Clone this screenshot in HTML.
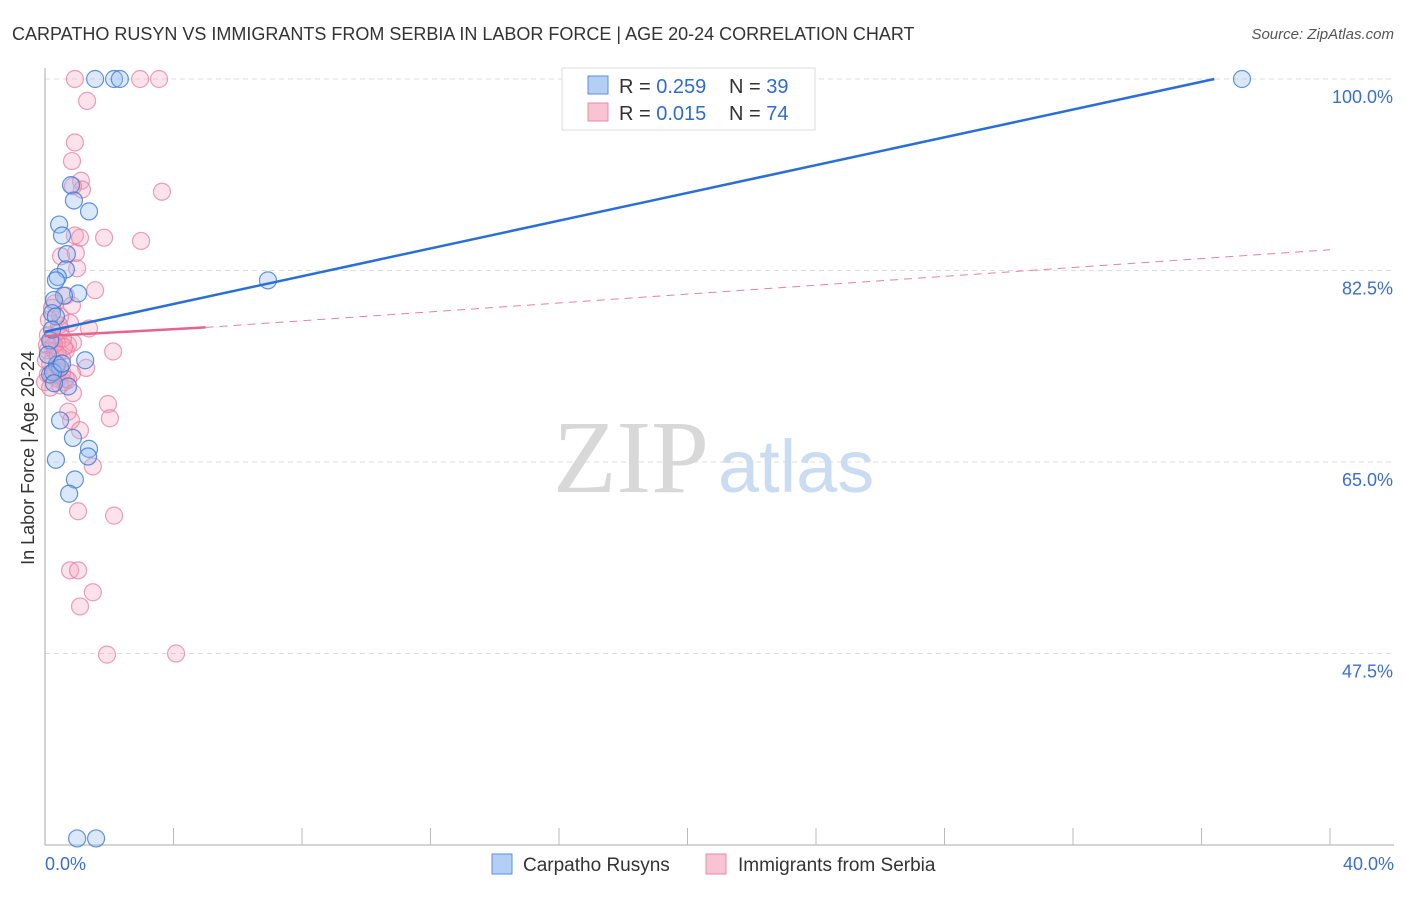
<!DOCTYPE html>
<html><head><meta charset="utf-8"><style>
body{margin:0;background:#fff;font-family:"Liberation Sans",sans-serif}
svg text{font-family:"Liberation Sans",sans-serif}
svg text.serif{font-family:"Liberation Serif",serif}
</style></head><body>
<svg width="1406" height="892" viewBox="0 0 1406 892">
<text x="12" y="40" font-size="18" fill="#333">CARPATHO RUSYN VS IMMIGRANTS FROM SERBIA IN LABOR FORCE | AGE 20-24 CORRELATION CHART</text>
<text x="1394" y="39" font-size="15" fill="#555" font-style="italic" text-anchor="end">Source: ZipAtlas.com</text>
<text x="34" y="458" font-size="18" fill="#333" text-anchor="middle" transform="rotate(-90 34 458)">In Labor Force | Age 20-24</text>
<g id="grid"></g>
<g id="axes"></g>
<text x="553" y="492" font-size="104" fill="#d8d8d8" class="serif">ZIP</text>
<text x="718" y="492" font-size="74" fill="#c9dcf2">atlas</text>
<g id="pts"></g>
<g id="lines"></g>
<g>
<rect x="562" y="68" width="253" height="62" fill="#fff" stroke="#ddd"/>
<rect x="588" y="76" width="20" height="18" fill="#b3cff5" stroke="#5b8fdc"/>
<text x="619" y="93" font-size="20" fill="#333">R = <tspan fill="#2f6bd1">0.259</tspan></text>
<text x="729" y="93" font-size="20" fill="#333">N = <tspan fill="#2f6bd1">39</tspan></text>
<rect x="588" y="103" width="20" height="18" fill="#f8c4d3" stroke="#e88aa6"/>
<text x="619" y="120" font-size="20" fill="#333">R = <tspan fill="#2f6bd1">0.015</tspan></text>
<text x="729" y="120" font-size="20" fill="#333">N = <tspan fill="#2f6bd1">74</tspan></text>
</g>
<g>
<rect x="492" y="854" width="20" height="20" fill="#b3cff5" stroke="#5b8fdc"/>
<text x="523" y="871" font-size="19" fill="#333">Carpatho Rusyns</text>
<rect x="706" y="854" width="20" height="20" fill="#f8c4d3" stroke="#e88aa6"/>
<text x="738" y="871" font-size="19" fill="#333">Immigrants from Serbia</text>
</g>
</svg>
<script>
const yTicks=[100,82.5,65,47.5];
const yTickLabels=["100.0%","82.5%","65.0%","47.5%"];
const xTickLabels=["0.0%","40.0%"];
const blueX=[1.56,2.15,2.33,37.26,0.81,0.9,1.37,0.44,0.53,0.68,0.65,0.4,0.34,1.03,0.59,0.28,0.22,0.34,0.16,0.37,0.47,1.25,0.72,0.47,0.87,1.37,1.34,0.34,0.93,0.75,1.0,1.59,6.94,0.22,0.09,0.16,0.25,0.28,0.53];
const blueY=[100,100,100,100,90.3,88.9,87.9,86.7,85.7,84.0,82.6,81.9,81.6,80.4,80.2,79.8,78.6,78.3,76.1,73.9,73.6,74.3,71.9,68.8,67.2,66.2,65.5,65.2,63.4,62.1,30.6,30.6,81.6,77.1,74.8,73.0,73.2,72.2,74.0];
const pinkX=[0.93,2.96,3.55,1.31,0.93,0.84,1.12,1.15,3.64,0.87,1.84,2.99,0.93,1.09,0.5,0.96,1.0,1.56,0.65,0.84,0.31,0.47,0.78,1.37,0.47,0.09,0.19,0.37,0.72,0.87,0.09,0.31,0.65,2.12,0.53,0.16,0.37,0.09,0.22,0.4,0.59,0.65,0.47,0.87,1.28,0,1.96,2.02,0.72,0.81,1.09,1.49,1.03,2.15,0.78,1.03,1.49,1.09,1.93,4.08,0.06,0.12,0.22,0.44,0.56,0.59,0.31,0.16,0.84,0.03,0.28,0.4,0.53,0.72];
const pinkY=[100,100,100,98.0,94.2,92.5,90.7,89.9,89.7,90.2,85.5,85.2,85.7,85.5,83.8,84.1,82.7,80.7,80.2,79.3,79.5,78.3,77.7,77.2,77.1,76.6,76.1,75.9,75.7,75.9,75.2,75.1,75.2,75.1,74.5,74.0,73.8,73.0,72.9,72.6,72.3,72.6,72.0,71.3,73.6,72.3,70.3,69.0,69.6,68.8,67.9,64.6,60.5,60.1,55.1,55.1,53.1,51.8,47.4,47.5,75.7,78.0,79.1,77.5,76.3,75.5,73.4,71.8,73.1,74.3,75.7,74.8,73.2,72.5];
const blueLine=[[0,76.9],[36.4,100]];
const pinkSolid=[[0,76.5],[5,77.3]];
const pinkDash=[[5,77.3],[40,84.4]];
const NS="http://www.w3.org/2000/svg";
function sx(v){return 45+v/40*1285;}
function sy(v){return 79+(100-v)*10.943;}
function mk(t,a,p){const e=document.createElementNS(NS,t);for(const k in a)e.setAttribute(k,a[k]);p.appendChild(e);return e;}
const grid=document.getElementById('grid'),axes=document.getElementById('axes'),pts=document.getElementById('pts'),lines=document.getElementById('lines');
yTicks.forEach((t,i)=>{
 const l=mk('line',{x1:45,x2:1394,y1:sy(t),y2:sy(t),stroke:'#ddd','stroke-dasharray':'5,4'},grid);
 
 
 const tx=mk('text',{x:1393,y:sy(t)+24,'font-size':18,fill:'#3a6fd0','text-anchor':'end'},grid);
 tx.textContent=yTickLabels[i];
 
 
});
const ya=mk('line',{x1:45,x2:45,y1:68,y2:845,stroke:'#aaa'},axes);


const xa=mk('line',{x1:45,x2:1394,y1:845,y2:845,stroke:'#aaa'},axes);


for(let i=1;i<=10;i++){const x=sx(i*4);const tk=mk('line',{x1:x,x2:x,y1:828,y2:845,stroke:'#bbb'},axes);
 
 }
[[0,'start',45],[40,'end',1394]].forEach((d,i)=>{const t=mk('text',{x:d[2],y:870,'font-size':18,fill:'#3a6fd0','text-anchor':d[1]},axes);t.textContent=xTickLabels[i];
 
 });
pinkX.forEach((x,i)=>{const c=mk('circle',{cx:sx(x),cy:sy(pinkY[i]),r:8.5,fill:'rgba(244,160,186,0.3)',stroke:'rgba(230,120,155,0.7)','stroke-width':1.2},pts);
 
 });
blueX.forEach((x,i)=>{const c=mk('circle',{cx:sx(x),cy:sy(blueY[i]),r:8.5,fill:'rgba(150,190,240,0.35)',stroke:'rgba(60,120,215,0.8)','stroke-width':1.2},pts);
 
 });
const bl=mk('line',{x1:sx(blueLine[0][0]),y1:sy(blueLine[0][1]),x2:sx(blueLine[1][0]),y2:sy(blueLine[1][1]),stroke:'#2a6fd6','stroke-width':2.5},lines);


const ps=mk('line',{x1:sx(pinkSolid[0][0]),y1:sy(pinkSolid[0][1]),x2:sx(pinkSolid[1][0]),y2:sy(pinkSolid[1][1]),stroke:'#e8628e','stroke-width':2.5},lines);


const pd=mk('line',{x1:sx(pinkDash[0][0]),y1:sy(pinkDash[0][1]),x2:sx(pinkDash[1][0]),y2:sy(pinkDash[1][1]),stroke:'#e8809f','stroke-width':1,'stroke-dasharray':'8,6'},lines);


</script>
</body></html>
